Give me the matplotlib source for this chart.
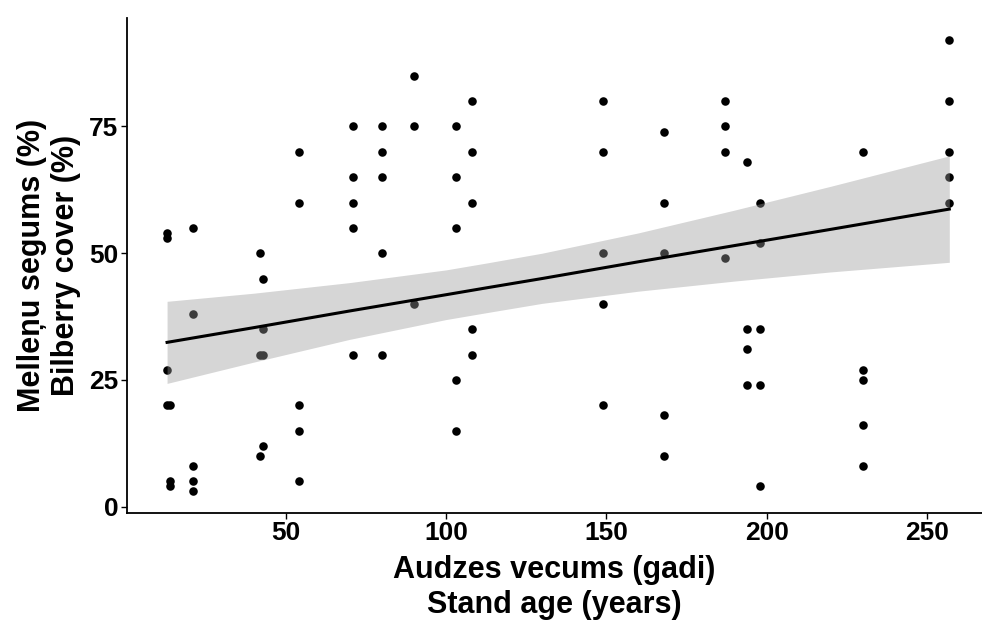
import numpy as np
import matplotlib
matplotlib.use("Agg")
import matplotlib.pyplot as plt

# stand age (years) and bilberry cover (%)
age = [13, 13, 13, 13, 14, 14, 14,
       21, 21, 21, 21, 21,
       42, 42, 42,
       43, 43, 43, 43,
       54, 54, 54, 54, 54,
       71, 71, 71, 71, 71,
       80, 80, 80, 80, 80,
       90, 90, 90,
       103, 103, 103, 103, 103,
       108, 108, 108, 108, 108,
       149, 149, 149, 149, 149,
       168, 168, 168, 168, 168,
       187, 187, 187, 187,
       194, 194, 194, 194,
       198, 198, 198, 198, 198,
       230, 230, 230, 230, 230,
       257, 257, 257, 257, 257]
cover = [54, 53, 27, 20, 20, 5, 4,
         55, 38, 8, 5, 3,
         50, 30, 10,
         45, 35, 30, 12,
         70, 60, 20, 15, 5,
         75, 65, 60, 55, 30,
         75, 70, 65, 50, 30,
         85, 75, 40,
         75, 65, 55, 25, 15,
         80, 70, 60, 35, 30,
         80, 70, 50, 40, 20,
         74, 60, 50, 18, 10,
         80, 75, 70, 49,
         68, 35, 31, 24,
         60, 52, 35, 24, 4,
         70, 27, 25, 16, 8,
         92, 80, 70, 65, 60]

# linear trend and its 95% band
fit_age = [13, 40, 70, 100, 113, 130, 160, 190, 220, 257]
fit_mid = [32.4, 35.3, 38.6, 41.8, 43.2, 45.0, 48.3, 51.5, 54.7, 58.7]
fit_low = [24.3, 28.5, 33.0, 36.9, 38.3, 40.1, 42.5, 44.5, 46.3, 48.2]
fit_high = [40.5, 42.1, 44.2, 46.7, 48.1, 50.0, 54.0, 58.5, 63.2, 69.2]

x_ticks = [50, 100, 150, 200, 250]
y_ticks = [0, 25, 50, 75]

plt.rcParams['font.family'] = ['Liberation Sans', 'DejaVu Sans']
fig = plt.figure(figsize=(9.82, 6.22), dpi=100)
ax = fig.add_axes([0.129, 0.175, 0.871, 0.796])

ax.scatter(age, cover, s=38, color='black', linewidths=0, zorder=2)
ax.fill_between(fit_age, fit_low, fit_high, color='#999999', alpha=0.4,
                linewidth=0, zorder=3)
ax.plot(fit_age, fit_mid, color='black', linewidth=2.2, zorder=4)

ax.set_xlim(0.4, 267.2)
ax.set_ylim(-1.3, 96.4)
ax.set_xticks(x_ticks)
ax.set_yticks(y_ticks)

for side in ['top', 'right']:
    ax.spines[side].set_visible(False)
for side in ['left', 'bottom']:
    ax.spines[side].set_linewidth(1.3)
ax.tick_params(length=4, width=1, direction='out', labelsize=19, pad=2)
for lab in ax.get_xticklabels() + ax.get_yticklabels():
    lab.set_fontweight('bold')

ax.set_xlabel('Audzes vecums (gadi)\nStand age (years)', fontsize=22,
              fontweight='bold', linespacing=1.22, labelpad=7)
ax.set_ylabel('Melleņu segums (%)\nBilberry cover (%)', fontsize=22,
              fontweight='bold', linespacing=1.15, labelpad=6)

fig.savefig('out.png', dpi=100)
